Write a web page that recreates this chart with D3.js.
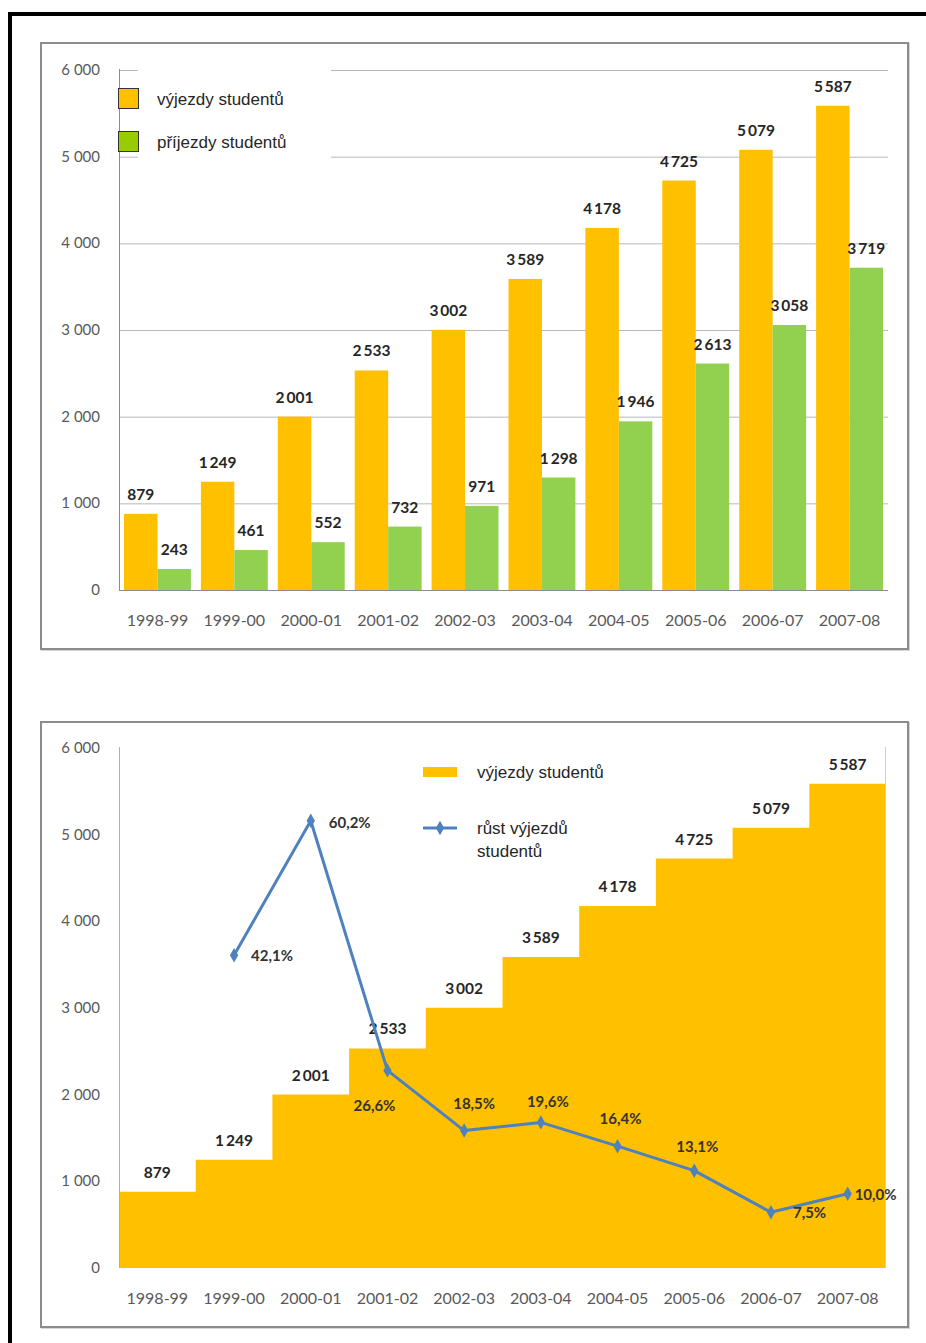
<!DOCTYPE html>
<html>
<head>
<meta charset="utf-8">
<script src="https://cdn.jsdelivr.net/npm/d3@7"></script>
<style>
  body { margin: 0; background: #fff; }
  svg { display: block; }
</style>
</head>
<body>
<svg id="chart" width="926" height="1343"></svg>
<script>
// data
var years = ["1998-99", "1999-00", "2000-01", "2001-02", "2002-03", "2003-04", "2004-05", "2005-06", "2006-07", "2007-08"];
var vyjezdy = [879, 1249, 2001, 2533, 3002, 3589, 4178, 4725, 5079, 5587];
var prijezdy = [243, 461, 552, 732, 971, 1298, 1946, 2613, 3058, 3719];
var rust = [null, 42.1, 60.2, 26.6, 18.5, 19.6, 16.4, 13.1, 7.5, 10.0];
var yTicks = [0, 1000, 2000, 3000, 4000, 5000, 6000];
var legendTop = ["výjezdy studentů", "příjezdy studentů"];
var legendBottom = ["výjezdy studentů", "růst výjezdů", "studentů"];

var orange = "#ffc000", green = "#92d050", blue = "#4f81bd";
var numFont = "Lato, 'Open Sans', sans-serif";
var txtFont = "'Liberation Sans', Arial, sans-serif";

var svg = d3.select("#chart");

var fmt = function(v) {
  var s = String(v);
  return s.length > 3 ? s.slice(0, s.length - 3) + "\u2009" + s.slice(-3) : s;
};
var fmtTick = function(v) {
  var s = String(v);
  return s.length > 3 ? s.slice(0, s.length - 3) + " " + s.slice(-3) : s;
};
var fmtPct = function(v) { return v.toFixed(1).replace(".", ",") + "%"; };

// outer black frame (top and left only)
svg.append("rect").attr("x", 8).attr("y", 12).attr("width", 918).attr("height", 4).attr("fill", "#000");
svg.append("rect").attr("x", 8).attr("y", 12).attr("width", 4).attr("height", 1331).attr("fill", "#000");

// panels
function panel(x0, y0, x1, y1) {
  svg.append("rect")
    .attr("x", x0 + 1).attr("y", y0 + 1)
    .attr("width", x1 - x0).attr("height", y1 - y0)
    .attr("fill", "none").attr("stroke", "#d6d6d6").attr("stroke-width", 2);
  svg.append("rect")
    .attr("x", x0).attr("y", y0)
    .attr("width", x1 - x0).attr("height", y1 - y0)
    .attr("fill", "#fff").attr("stroke", "#8c8c8c").attr("stroke-width", 2);
}
panel(41, 43, 908, 649);
panel(41, 722, 908, 1327);

function yAxisLabels(g, y) {
  g.selectAll("text.ytick")
    .data(yTicks)
    .enter().append("text")
    .attr("class", "ytick")
    .attr("x", 100)
    .attr("y", function(d) { return y(d) + 5; })
    .attr("text-anchor", "end")
    .style("font-family", numFont)
    .style("font-size", "15px")
    .style("fill", "#595959")
    .text(fmtTick);
}

function xAxisLabels(g, x, yPos) {
  g.selectAll("text.xtick")
    .data(years)
    .enter().append("text")
    .attr("class", "xtick")
    .attr("x", function(d) { return x(d) + x.bandwidth() / 2; })
    .attr("y", yPos)
    .attr("text-anchor", "middle")
    .style("font-family", numFont)
    .style("font-size", "16px")
    .style("fill", "#595959")
    .text(function(d) { return d; });
}

// ---------- top chart: grouped bars ----------
var g1 = svg.append("g");
var x1 = d3.scaleBand().domain(years).range([119, 888]).paddingInner(0.13).paddingOuter(0.065);
var xSub = d3.scaleBand().domain(["v", "p"]).range([0, x1.bandwidth()]);
var y1 = d3.scaleLinear().domain([0, 6000]).range([590, 70]);

g1.selectAll("line.grid")
  .data(yTicks.filter(function(d) { return d > 0; }))
  .enter().append("line")
  .attr("class", "grid")
  .attr("x1", 119).attr("x2", 888)
  .attr("y1", function(d) { return y1(d) + 0.5; })
  .attr("y2", function(d) { return y1(d) + 0.5; })
  .attr("stroke", "#b8b8b8").attr("stroke-width", 1);

var rows = years.map(function(d, i) { return { year: d, v: vyjezdy[i], p: prijezdy[i] }; });

var grp = g1.selectAll("g.year")
  .data(rows)
  .enter().append("g")
  .attr("class", "year")
  .attr("transform", function(d) { return "translate(" + x1(d.year) + ",0)"; });

["v", "p"].forEach(function(k) {
  grp.append("rect")
    .attr("x", xSub(k))
    .attr("width", xSub.bandwidth())
    .attr("y", function(d) { return y1(d[k]); })
    .attr("height", function(d) { return y1(0) - y1(d[k]); })
    .attr("fill", k === "v" ? orange : green);
  grp.append("text")
    .attr("x", xSub(k) + xSub.bandwidth() / 2)
    .attr("y", function(d) { return y1(d[k]) - 14; })
    .attr("text-anchor", "middle")
    .style("font-family", numFont)
    .style("font-weight", "bold")
    .style("font-size", "15.5px")
    .style("fill", "#262626")
    .text(function(d) { return fmt(d[k]); });
});

// axes lines
g1.append("line").attr("x1", 119.5).attr("x2", 119.5).attr("y1", 69).attr("y2", 590).attr("stroke", "#8c8c8c");
g1.append("line").attr("x1", 119).attr("x2", 888).attr("y1", 590.5).attr("y2", 590.5).attr("stroke", "#8c8c8c");

yAxisLabels(g1, y1);
xAxisLabels(g1, x1, 626);

// legend top
g1.append("rect").attr("x", 138).attr("y", 62).attr("width", 193).attr("height", 104).attr("fill", "#fff");
var legColors = [orange, "#99cc00"];
legendTop.forEach(function(t, i) {
  g1.append("rect")
    .attr("x", 118.5).attr("y", 88.5 + i * 43)
    .attr("width", 20).attr("height", 20)
    .attr("fill", legColors[i]).attr("stroke", "#333").attr("stroke-width", 1);
  g1.append("text")
    .attr("x", 157).attr("y", 105 + i * 43)
    .style("font-family", txtFont)
    .style("font-size", "17px")
    .style("fill", "#262626")
    .text(t);
});

// ---------- bottom chart: step area + growth line ----------
var g2 = svg.append("g");
var x2 = d3.scaleBand().domain(years).range([119, 886]).padding(0);
var y2 = d3.scaleLinear().domain([0, 6000]).range([1268, 748]);
var yPct = d3.scaleLinear().domain([0, 70]).range([1268, 748]);

var stepData = years.map(function(d, i) { return { x: x2(d), v: vyjezdy[i] }; });
stepData.push({ x: x2.range()[1], v: vyjezdy[vyjezdy.length - 1] });

var area = d3.area()
  .curve(d3.curveStepAfter)
  .x(function(d) { return d.x; })
  .y0(y2(0))
  .y1(function(d) { return y2(d.v); });

g2.append("path").datum(stepData).attr("d", area).attr("fill", orange);

// axes
g2.append("line").attr("x1", 119.5).attr("x2", 119.5).attr("y1", 747).attr("y2", 1268).attr("stroke", "#b0b0b0");
g2.append("line").attr("x1", 885.5).attr("x2", 885.5).attr("y1", 747).attr("y2", 1268).attr("stroke", "#d0d0d0");

g2.selectAll("text.step")
  .data(stepData.slice(0, years.length))
  .enter().append("text")
  .attr("class", "step")
  .attr("x", function(d) { return d.x + x2.bandwidth() / 2; })
  .attr("y", function(d) { return y2(d.v) - 14; })
  .attr("text-anchor", "middle")
  .style("font-family", numFont)
  .style("font-weight", "bold")
  .style("font-size", "15.5px")
  .style("fill", "#262626")
  .text(function(d) { return fmt(d.v); });

var pts = years.map(function(d, i) {
  return { x: x2(d) + x2.bandwidth() / 2, v: rust[i] };
}).filter(function(d) { return d.v !== null; });

var line = d3.line()
  .x(function(d) { return d.x; })
  .y(function(d) { return yPct(d.v); });

g2.append("path").datum(pts).attr("d", line)
  .attr("fill", "none").attr("stroke", blue).attr("stroke-width", 3).attr("stroke-linejoin", "round");

var diamond = d3.symbol().type(d3.symbolDiamond).size(60);
g2.selectAll("path.marker")
  .data(pts)
  .enter().append("path")
  .attr("class", "marker")
  .attr("d", diamond)
  .attr("transform", function(d) { return "translate(" + d.x + "," + yPct(d.v) + ")"; })
  .attr("fill", blue);

// label placement for each growth point: [dx, dy, anchor]
var pctPlace = [[17, 6, "start"], [18, 7, "start"], [-13, 41, "middle"], [10, -22, "middle"], [7, -15, "middle"],
  [3, -22, "middle"], [3, -19, "middle"], [22, 6, "start"], [7, 6, "start"]];

g2.selectAll("text.pct")
  .data(pts)
  .enter().append("text")
  .attr("class", "pct")
  .attr("x", function(d, i) { return d.x + pctPlace[i][0]; })
  .attr("y", function(d, i) { return yPct(d.v) + pctPlace[i][1]; })
  .attr("text-anchor", function(d, i) { return pctPlace[i][2]; })
  .style("font-family", numFont)
  .style("font-weight", "bold")
  .style("font-size", "15px")
  .style("fill", "#333")
  .text(function(d) { return fmtPct(d.v); });

yAxisLabels(g2, y2);
xAxisLabels(g2, x2, 1304);

// legend bottom
g2.append("rect").attr("x", 423).attr("y", 767).attr("width", 34).attr("height", 10).attr("fill", orange);
g2.append("text").attr("x", 477).attr("y", 778)
  .style("font-family", txtFont).style("font-size", "17px").style("fill", "#262626")
  .text(legendBottom[0]);
g2.append("line").attr("x1", 423).attr("x2", 457).attr("y1", 828).attr("y2", 828)
  .attr("stroke", blue).attr("stroke-width", 3);
g2.append("path").attr("d", diamond).attr("transform", "translate(440,828)").attr("fill", blue);
g2.append("text").attr("x", 477).attr("y", 834)
  .style("font-family", txtFont).style("font-size", "17px").style("fill", "#262626")
  .text(legendBottom[1]);
g2.append("text").attr("x", 477).attr("y", 857)
  .style("font-family", txtFont).style("font-size", "17px").style("fill", "#262626")
  .text(legendBottom[2]);
</script>
</body>
</html>
